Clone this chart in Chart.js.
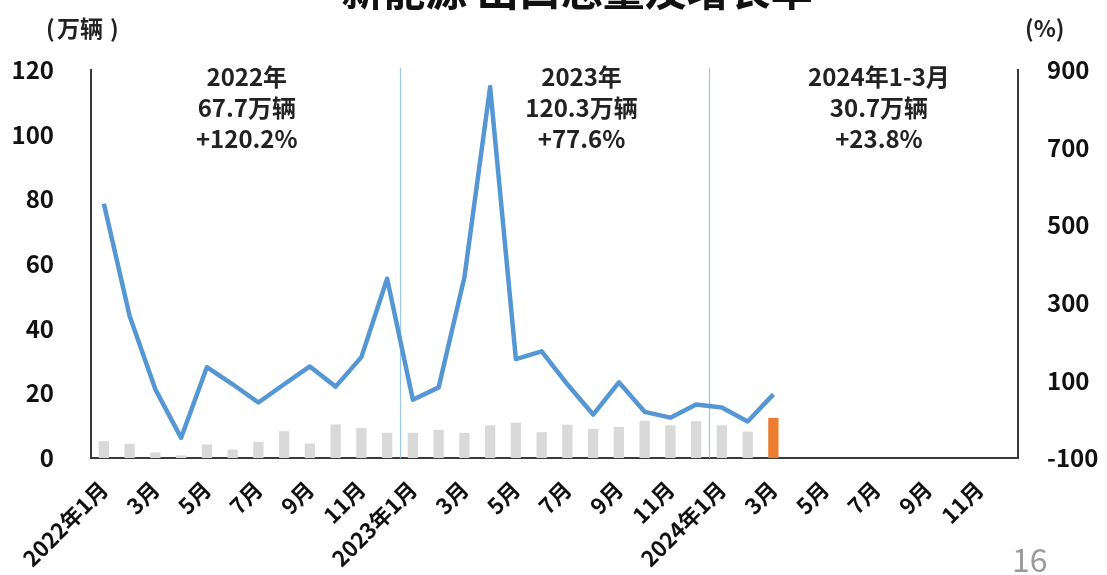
<!DOCTYPE html>
<html>
<head>
<meta charset="utf-8">
<title>新能源 出口总量及增长率</title>
<script src="https://cdn.jsdelivr.net/npm/chart.js@4.4.1/dist/chart.umd.min.js"></script>
<style>
    html, body { margin: 0; padding: 0; background: #fff; }
    #wrap { width: 1107px; height: 575px; position: relative; }
</style>
</head>
<body>
<div id="wrap"><canvas id="exportChart"></canvas></div>
<script>
// Monthly categories, Jan 2022 - Dec 2024
const months = [
    '2022年1月', '2月', '3月', '4月', '5月', '6月', '7月', '8月', '9月', '10月', '11月', '12月',
    '2023年1月', '2月', '3月', '4月', '5月', '6月', '7月', '8月', '9月', '10月', '11月', '12月',
    '2024年1月', '2月', '3月', '4月', '5月', '6月', '7月', '8月', '9月', '10月', '11月', '12月'
];

// Export volume (万辆)
const volume2022 = [5.2, 4.4, 1.7, 0.8, 4.2, 2.6, 5.0, 8.3, 4.5, 10.4, 9.3, 7.8];
const volume2023 = [7.8, 8.7, 7.8, 10.1, 10.9, 8.0, 10.3, 9.0, 9.6, 11.5, 10.1, 11.4];
const volume2024 = [10.1, 8.2, 12.4];

// Year-on-year growth (%)
const growth2022 = [555, 266, 77, -48, 134, 90, 43, 90, 136, 84, 160, 362];
const growth2023 = [50, 82, 365, 856, 155, 175, 90, 12, 95, 19, 4, 38];
const growth2024 = [30, -6, 64];

// Yearly summary boxes
const yearTitles = ['2022年', '2023年', '2024年1-3月'];
const yearTotals = ['67.7万辆', '120.3万辆', '30.7万辆'];
const yearGrowth = ['+120.2%', '+77.6%', '+23.8%'];

const leftTicks = [0, 20, 40, 60, 80, 100, 120];
const rightTicks = [-100, 100, 300, 500, 700, 900];

const volume = volume2022.concat(volume2023, volume2024);
const growth = growth2022.concat(growth2023, growth2024);
const barColors = volume.map((v, i) => i === volume.length - 1 ? '#ed7d31' : '#d9d9d9');

const FONT = '"Noto Sans CJK SC", "Noto Sans", sans-serif';

const overlay = {
    id: 'overlay',
    beforeDatasetsDraw(chart) {
        const ctx = chart.ctx;
        const x = chart.scales.x;
        const area = chart.chartArea;
        ctx.save();
        ctx.strokeStyle = '#9dc3e6';
        ctx.lineWidth = 1.2;
        [11.5, 23.5].forEach(v => {
            const px = Math.round((x.getPixelForValue(Math.floor(v)) + x.getPixelForValue(Math.ceil(v))) / 2) + 0.5;
            ctx.beginPath();
            ctx.moveTo(px, area.top - 2);
            ctx.lineTo(px, area.bottom);
            ctx.stroke();
        });
        ctx.restore();
    },
    afterDraw(chart) {
        const ctx = chart.ctx;
        const x = chart.scales.x;
        ctx.save();
        ctx.fillStyle = '#222';
        ctx.textAlign = 'center';
        ctx.textBaseline = 'middle';
        ctx.font = 'bold 24px ' + FONT;
        const centers = [5.55, 18.55, 30.1];
        centers.forEach((c, i) => {
            const cx = x.getPixelForValue(Math.floor(c)) + (c % 1) * (x.getPixelForValue(1) - x.getPixelForValue(0));
            ctx.fillText(yearTitles[i], cx, 77);
            ctx.fillText(yearTotals[i], cx, 108);
            ctx.fillText(yearGrowth[i], cx, 139);
        });

        // axis units
        ctx.font = 'bold 23px ' + FONT;
        ctx.textAlign = 'left';
        ctx.fillText('(', 46, 28);
        ctx.fillText('万辆', 57, 28);
        ctx.fillText(')', 110, 28);
        ctx.fillText('(%)', 1025, 28);

        // title, clipped at the top edge
        ctx.font = 'bold 42px ' + FONT;
        ctx.textAlign = 'center';
        ctx.textBaseline = 'alphabetic';
        ctx.fillStyle = '#111';
        ctx.fillText('新能源 出口总量及增长率', 577, 6);

        // page number
        ctx.font = '32px ' + FONT;
        ctx.fillStyle = '#9a9a9a';
        ctx.textAlign = 'left';
        ctx.fillText('16', 1012, 572);
        ctx.restore();
    }
};

new Chart(document.getElementById('exportChart'), {
    data: {
        labels: months,
        datasets: [
            {
                type: 'line',
                label: '增长率',
                data: growth,
                yAxisID: 'y1',
                borderColor: '#5597d3',
                borderWidth: 4.5,
                borderJoinStyle: 'round',
                pointRadius: 0,
                tension: 0,
                order: 0
            },
            {
                type: 'bar',
                label: '出口量',
                data: volume,
                yAxisID: 'y',
                backgroundColor: barColors,
                categoryPercentage: 1,
                barPercentage: 0.4,
                order: 1
            }
        ]
    },
    plugins: [overlay],
    options: {
        responsive: true,
        maintainAspectRatio: false,
        animation: false,
        layout: {
            padding: { top: 70, left: 0, right: 0, bottom: 0 }
        },
        plugins: {
            legend: { display: false },
            tooltip: { enabled: false }
        },
        scales: {
            x: {
                grid: { display: false, drawTicks: false },
                border: { display: true, color: '#3a3a3a', width: 2 },
                afterFit(scale) { scale.height = 117; },
                ticks: {
                    autoSkip: false,
                    maxRotation: 45,
                    minRotation: 45,
                    padding: 18,
                    color: '#111',
                    font: { family: FONT, size: 22, weight: 'bold' },
                    callback(value, index) {
                        return index % 2 === 0 ? months[index] : '';
                    }
                }
            },
            y: {
                position: 'left',
                min: 0,
                max: 120,
                grid: { display: false, drawTicks: false },
                border: { display: true, color: '#3a3a3a', width: 2 },
                afterFit(scale) { scale.width = 91; },
                afterBuildTicks(scale) { scale.ticks = leftTicks.map(v => ({ value: v })); },
                ticks: {
                    padding: 37,
                    color: '#111',
                    font: { family: FONT, size: 24, weight: 'bold' }
                }
            },
            y1: {
                position: 'right',
                min: -100,
                max: 900,
                grid: { display: false, drawTicks: false },
                border: { display: true, color: '#3a3a3a', width: 2 },
                afterFit(scale) { scale.width = 89; },
                afterBuildTicks(scale) { scale.ticks = rightTicks.map(v => ({ value: v })); },
                ticks: {
                    padding: 29,
                    color: '#111',
                    font: { family: FONT, size: 24, weight: 'bold' }
                }
            }
        }
    }
});
</script>
</body>
</html>
